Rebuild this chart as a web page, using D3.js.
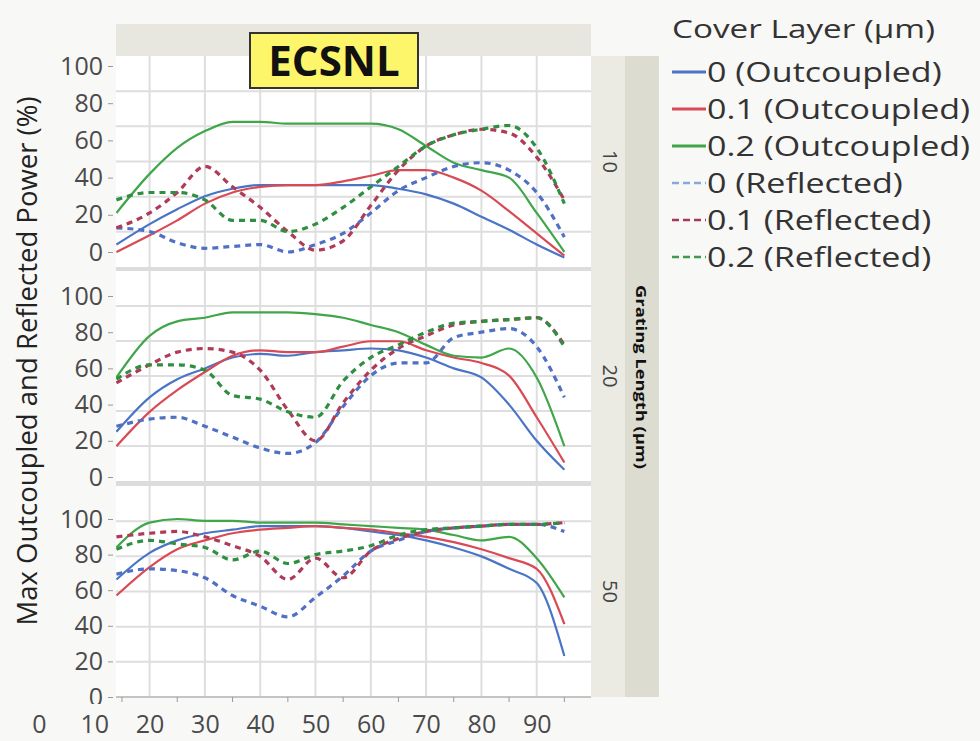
<!DOCTYPE html>
<html>
<head>
<meta charset="utf-8">
<script src="https://cdn.jsdelivr.net/npm/d3@7"></script>
<style>
  body { margin: 0; background: #f8f8f7; }
  svg { display: block; font-family: "Open Sans", "Noto Sans", sans-serif; }
</style>
</head>
<body>
<svg id="chart" width="980" height="741"></svg>
<script>
// Grating lengths (one panel each) and cover-layer thicknesses
const gratingLengths = ["10", "20", "50"];
const coverLayers = ["0", "0.1", "0.2"];

// Grating period positions shared by all curves
const xValues = [14, 20, 25, 30, 35, 40, 45, 50, 55, 60, 65, 70, 75, 80, 85, 90, 95];
const xTickValues = [0, 10, 20, 30, 40, 50, 60, 70, 80, 90];
const xMinorTicks = [15, 25, 35, 45, 55, 65, 75, 85, 95];
const yTickValues = [0, 20, 40, 60, 80, 100];

// Grating length 10 µm
const out10_c0  = [4, 15, 23, 30, 34, 36, 36, 36, 36, 36, 34, 31, 26, 19, 12, 4, -3];
const out10_c1  = [0, 9, 17, 26, 32, 35, 36, 36, 38, 41, 44, 44, 40, 33, 22, 10, -2];
const out10_c2  = [21, 42, 56, 65, 70, 70, 69, 69, 69, 69, 66, 57, 48, 44, 40, 21, 0];
const ref10_c0  = [13, 11, 5, 2, 3, 4, 0, 4, 10, 21, 33, 40, 46, 48, 44, 32, 8];
const ref10_c1  = [13, 21, 32, 46, 35, 24, 11, 1, 6, 25, 44, 57, 63, 66, 64, 51, 28];
const ref10_c2  = [28, 32, 32, 28, 17, 17, 11, 15, 24, 35, 46, 57, 63, 66, 68, 56, 26];

// Grating length 20 µm
const out20_c0  = [25, 44, 54, 60, 66, 68, 67, 69, 70, 71, 70, 66, 60, 55, 40, 20, 4];
const out20_c1  = [17, 36, 48, 58, 67, 70, 69, 69, 72, 75, 75, 70, 66, 63, 56, 33, 8];
const out20_c2  = [55, 78, 86, 88, 91, 91, 91, 90, 88, 84, 80, 73, 67, 66, 71, 55, 17];
const ref20_c0  = [28, 32, 33, 28, 22, 16, 13, 19, 39, 56, 63, 63, 77, 80, 82, 72, 44];
const ref20_c1  = [52, 62, 69, 71, 69, 59, 37, 20, 41, 59, 71, 78, 84, 86, 87, 88, 73];
const ref20_c2  = [54, 62, 62, 59, 45, 43, 36, 33, 53, 66, 73, 80, 85, 86, 87, 88, 72];

// Grating length 50 µm
const out50_c0  = [66, 81, 88, 92, 94, 96, 96, 96, 95, 93, 91, 88, 84, 79, 72, 64, 23];
const out50_c1  = [57, 73, 83, 88, 92, 94, 95, 96, 95, 94, 92, 90, 87, 83, 78, 72, 41];
const out50_c2  = [84, 98, 100, 99, 99, 98, 98, 98, 97, 96, 95, 94, 91, 88, 90, 78, 56];
const ref50_c0  = [69, 72, 71, 67, 57, 51, 45, 56, 68, 82, 88, 93, 95, 96, 97, 97, 93];
const ref50_c1  = [90, 92, 93, 90, 85, 79, 66, 78, 67, 82, 89, 93, 95, 96, 97, 97, 98];
const ref50_c2  = [83, 88, 86, 84, 77, 82, 75, 80, 82, 85, 91, 94, 95, 96, 97, 97, 98];

const legendLabels = [
  "0 (Outcoupled)", "0.1 (Outcoupled)", "0.2 (Outcoupled)",
  "0 (Reflected)", "0.1 (Reflected)", "0.2 (Reflected)"
];

// Series table built from the arrays above
const panelData = [
  [out10_c0, out10_c1, out10_c2, ref10_c0, ref10_c1, ref10_c2],
  [out20_c0, out20_c1, out20_c2, ref20_c0, ref20_c1, ref20_c2],
  [out50_c0, out50_c1, out50_c2, ref50_c0, ref50_c1, ref50_c2]
];

// Styles per series (solid = outcoupled, dashed = reflected)
const seriesColor = ["#4a74c6", "#d94a55", "#3fa64a", "#4f70c4", "#b03b58", "#2f8f40"];
const legendColor = ["#4a74c6", "#d94a55", "#3fa64a", "#8aa8de", "#a33a5a", "#3f9a4c"];
const dashed = [false, false, false, true, true, true];

const svg = d3.select("#chart");

// Frame geometry
const plotLeft = 116, plotRight = 591;
const panels = [
  { top: 56,  bottom: 267, y100: 66,  y0: 252 },
  { top: 271, bottom: 481, y100: 296, y0: 477 },
  { top: 486, bottom: 697, y100: 519, y0: 697 }
];

const x = d3.scaleLinear().domain([0, 90]).range([39, 536.7]);

// Group header strip and right-hand panel strips
svg.append("rect").attr("x", plotLeft).attr("y", 24).attr("width", plotRight - plotLeft).attr("height", 32)
  .attr("fill", "#e7e7e0");
svg.append("rect").attr("x", plotLeft).attr("y", 56).attr("width", plotRight - plotLeft).attr("height", 641)
  .attr("fill", "#dcdcdc");
svg.append("rect").attr("x", plotRight).attr("y", 56).attr("width", 34).attr("height", 641)
  .attr("fill", "#ebebe4");
svg.append("rect").attr("x", plotRight + 34).attr("y", 56).attr("width", 34).attr("height", 641)
  .attr("fill", "#dddcd0");

const defs = svg.append("defs");
// lowest tick label is cut off by the x-axis label row
defs.append("clipPath").attr("id", "yLabelClip").append("rect")
  .attr("x", 0).attr("y", 0).attr("width", plotLeft).attr("height", 704);

panels.forEach((p, i) => {
  const y = d3.scaleLinear().domain([0, 100]).range([p.y0, p.y100]);
  const g = svg.append("g");

  g.append("rect").attr("x", plotLeft).attr("y", p.top)
    .attr("width", plotRight - plotLeft).attr("height", p.bottom - p.top)
    .attr("fill", "#ffffff");

  // grid: vertical at x ticks, horizontal at six equal bands
  const band = d3.scaleLinear().domain([0, 6]).range([p.top, p.bottom]);
  g.selectAll("line.hg").data([1, 2, 3, 4, 5]).join("line")
    .attr("x1", plotLeft).attr("x2", plotRight)
    .attr("y1", d => band(d)).attr("y2", d => band(d))
    .attr("stroke", "#dedede").attr("stroke-width", 2);
  g.selectAll("line.vg").data(xTickValues.filter(v => x(v) > plotLeft)).join("line")
    .attr("x1", d => x(d)).attr("x2", d => x(d))
    .attr("y1", p.top).attr("y2", p.bottom)
    .attr("stroke", "#dedede").attr("stroke-width", 2);

  // y axis labels
  const yAxis = d3.axisLeft(y).tickValues(yTickValues).tickSize(5).tickPadding(5);
  const ya = svg.append("g").attr("clip-path", "url(#yLabelClip)")
    .append("g").attr("transform", `translate(${plotLeft - 3},0)`).call(yAxis);
  ya.select(".domain").remove();
  ya.selectAll("line").attr("stroke", "#999");
  ya.selectAll("text").attr("font-size", 25).attr("fill", "#4a4a4a")
    .attr("font-family", "'Open Sans', sans-serif");

  // clip curves to the panel
  defs.append("clipPath").attr("id", "clip" + i).append("rect")
    .attr("x", plotLeft).attr("y", p.top).attr("width", plotRight - plotLeft).attr("height", p.bottom - p.top);

  const line = d3.line().x((d, k) => x(xValues[k])).y(d => y(d)).curve(d3.curveMonotoneX);
  const curves = g.append("g").attr("clip-path", `url(#clip${i})`);
  panelData[i].forEach((vals, s) => {
    curves.append("path").datum(vals)
      .attr("d", line)
      .attr("fill", "none")
      .attr("stroke", seriesColor[s])
      .attr("stroke-width", dashed[s] ? 3.2 : 2.2)
      .attr("stroke-dasharray", dashed[s] ? "6,5" : null)
      .attr("stroke-linejoin", "round");
  });

  // grating length label on the right strip
  svg.append("text")
    .attr("transform", `translate(${plotRight + 12},${(p.top + p.bottom) / 2}) rotate(90)`)
    .attr("text-anchor", "middle")
    .attr("font-size", 20).attr("fill", "#444")
    .text(gratingLengths[i]);
});

// x axis along the bottom panel
const bottom = panels[2].bottom;
svg.append("line").attr("x1", plotLeft).attr("x2", plotRight).attr("y1", bottom).attr("y2", bottom)
  .attr("stroke", "#c4c4c4").attr("stroke-width", 2);
const xAxis = d3.axisBottom(x).tickValues(xTickValues).tickSize(0).tickPadding(18);
const xa = svg.append("g").attr("transform", `translate(0,${bottom})`).call(xAxis);
xa.select(".domain").remove();
xa.selectAll("text").attr("font-size", 25).attr("fill", "#4a4a4a")
  .attr("font-family", "'Open Sans', sans-serif");
svg.append("g").selectAll("line").data(xMinorTicks).join("line")
  .attr("x1", d => x(d)).attr("x2", d => x(d))
  .attr("y1", bottom).attr("y2", bottom + 5)
  .attr("stroke", "#999");

// y axis title
svg.append("text")
  .attr("transform", "translate(37,361) rotate(-90)")
  .attr("text-anchor", "middle")
  .attr("font-size", 27.5).attr("fill", "#222")
  .text("Max Outcoupled and Reflected Power (%)");

// strip title
svg.append("text")
  .attr("transform", `translate(${plotRight + 45},377) rotate(90) scale(1.22,1)`)
  .attr("text-anchor", "middle")
  .attr("font-size", 15).attr("font-weight", "bold").attr("fill", "#111")
  .text("Grating Length (µm)");

// title box
const title = svg.append("g");
title.append("rect").attr("x", 250).attr("y", 33).attr("width", 168).attr("height", 55)
  .attr("fill", "#fdf66a").attr("stroke", "#333").attr("stroke-width", 2);
title.append("text").attr("x", 334).attr("y", 76).attr("text-anchor", "middle")
  .attr("font-size", 42).attr("font-weight", "bold").attr("fill", "#111")
  .text("ECSNL");

// legend
const legend = svg.append("g");
legend.append("text").attr("transform", "translate(672,38) scale(1.28,1)")
  .attr("font-size", 26).attr("fill", "#333").text("Cover Layer (µm)");
const rows = legend.selectAll("g.row").data(legendLabels).join("g")
  .attr("transform", (d, i) => `translate(672,${72 + i * 37})`);
rows.append("line").attr("x1", 0).attr("x2", 34).attr("y1", 0).attr("y2", 0)
  .attr("stroke", (d, i) => legendColor[i])
  .attr("stroke-width", (d, i) => dashed[i] ? 2.5 : 3)
  .attr("stroke-dasharray", (d, i) => dashed[i] ? "7,4" : null);
rows.append("text").attr("transform", "translate(35,10) scale(1.26,1)")
  .attr("font-size", 27).attr("fill", "#333").text(d => d);
</script>
</body>
</html>
